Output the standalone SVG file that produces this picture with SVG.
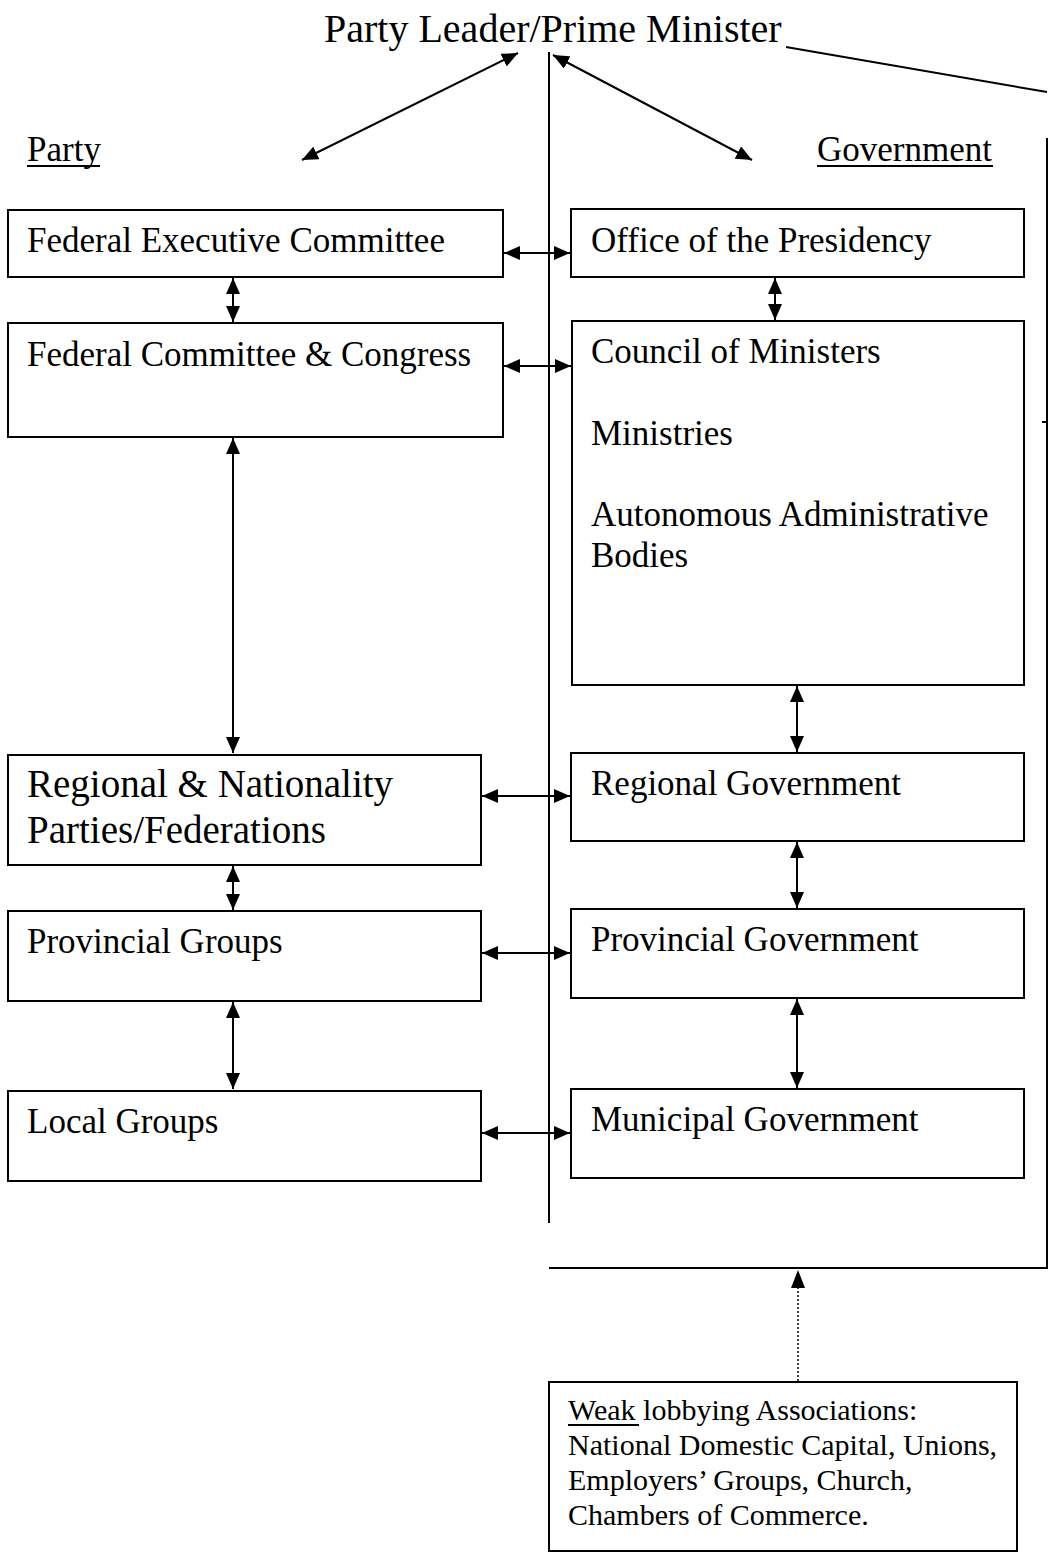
<svg xmlns="http://www.w3.org/2000/svg" width="1050" height="1559" viewBox="0 0 1050 1559">
  <defs>
    <marker id="tri" viewBox="0 0 16 14" refX="16" refY="7" markerWidth="16" markerHeight="14" markerUnits="userSpaceOnUse" orient="auto-start-reverse">
      <path d="M0,0 L16,7 L0,14 z" fill="#000"/>
    </marker>
    <style>
      text { font-family: "Liberation Serif", "Times New Roman", serif; fill: #000; }
      .box { fill: #fff; stroke: #000; stroke-width: 2; }
      .lbl { font-size: 35px; }
      .big { font-size: 39px; }
      .small { font-size: 30px; }
      .ln { stroke: #000; stroke-width: 2; fill: none; }
      .dbl { stroke: #000; stroke-width: 2; fill: none; marker-start: url(#tri); marker-end: url(#tri); }
      .dot { stroke: #000; stroke-width: 1.5; fill: none; stroke-dasharray: 2 2; }
    </style>
  </defs>

  <rect width="1050" height="1559" fill="#fff"/>

  <!-- Heading and column titles -->
  <g id="leader">
    <text x="324" y="42" style="font-size:40px">Party Leader/Prime Minister</text>
  </g>
  <g id="party-title">
    <text x="27" y="161" class="lbl">Party</text>
    <line x1="27" y1="166" x2="100" y2="166" class="ln" stroke-width="1.6"/>
  </g>
  <g id="government-title">
    <text x="817" y="161" class="lbl">Government</text>
    <line x1="817" y1="166" x2="993" y2="166" class="ln" stroke-width="1.6"/>
  </g>

  <!-- Frame lines dividing party and government sides -->
  <g id="frame">
    <line x1="549" y1="52" x2="549" y2="1223" class="ln"/>
    <line x1="786" y1="47" x2="1047" y2="92" class="ln"/>
    <polyline points="1047,138 1047,1268 549,1268" class="ln"/>
    <line x1="1042" y1="422" x2="1047" y2="422" class="ln" stroke-width="1.5"/>
  </g>

  <!-- Party side -->
  <g id="fec">
    <rect x="8" y="210" width="495" height="67" class="box"/>
    <text x="27" y="252" class="lbl">Federal Executive Committee</text>
  </g>
  <g id="fcc">
    <rect x="8" y="323" width="495" height="114" class="box"/>
    <text x="27" y="366" class="lbl">Federal Committee &amp; Congress</text>
  </g>
  <g id="regional-parties">
    <rect x="8" y="755" width="473" height="110" class="box"/>
    <text x="27" y="797" class="big">Regional &amp; Nationality</text>
    <text x="27" y="843" class="big">Parties/Federations</text>
  </g>
  <g id="provincial-groups">
    <rect x="8" y="911" width="473" height="90" class="box"/>
    <text x="27" y="953" class="lbl">Provincial Groups</text>
  </g>
  <g id="local-groups">
    <rect x="8" y="1091" width="473" height="90" class="box"/>
    <text x="27" y="1133" class="lbl">Local Groups</text>
  </g>

  <!-- Government side -->
  <g id="presidency">
    <rect x="571" y="209" width="453" height="68" class="box"/>
    <text x="591" y="252" class="lbl">Office of the Presidency</text>
  </g>
  <g id="council">
    <rect x="572" y="321" width="452" height="364" class="box"/>
    <text x="591" y="363" class="lbl">Council of Ministers</text>
    <text x="591" y="445" class="lbl">Ministries</text>
    <text x="591" y="526" class="lbl">Autonomous Administrative</text>
    <text x="591" y="567" class="lbl">Bodies</text>
  </g>
  <g id="regional-gov">
    <rect x="571" y="753" width="453" height="88" class="box"/>
    <text x="591" y="795" class="lbl">Regional Government</text>
  </g>
  <g id="provincial-gov">
    <rect x="571" y="909" width="453" height="89" class="box"/>
    <text x="591" y="951" class="lbl">Provincial Government</text>
  </g>
  <g id="municipal-gov">
    <rect x="571" y="1089" width="453" height="89" class="box"/>
    <text x="591" y="1131" class="lbl">Municipal Government</text>
  </g>

  <!-- Interest groups -->
  <g id="lobbying">
    <rect x="549" y="1382" width="468" height="169" class="box"/>
    <text x="568" y="1420" class="small">Weak lobbying Associations:</text>
    <line x1="568" y1="1425" x2="639" y2="1425" class="ln" stroke-width="1.4"/>
    <text x="568" y="1455" class="small">National Domestic Capital, Unions,</text>
    <text x="568" y="1490" class="small">Employers’ Groups, Church,</text>
    <text x="568" y="1525" class="small">Chambers of Commerce.</text>
  </g>

  <!-- Connectors -->
  <g id="connectors">
    <line x1="518" y1="53" x2="302" y2="160" class="dbl"/>
    <line x1="553" y1="55" x2="752" y2="160" class="dbl"/>

    <line x1="233" y1="278" x2="233" y2="322" class="dbl"/>
    <line x1="233" y1="438" x2="233" y2="753" class="dbl"/>
    <line x1="233" y1="866" x2="233" y2="910" class="dbl"/>
    <line x1="233" y1="1002" x2="233" y2="1089" class="dbl"/>

    <line x1="775" y1="278" x2="775" y2="320" class="dbl"/>
    <line x1="797" y1="686" x2="797" y2="752" class="dbl"/>
    <line x1="797" y1="842" x2="797" y2="908" class="dbl"/>
    <line x1="797" y1="999" x2="797" y2="1088" class="dbl"/>

    <line x1="504" y1="253" x2="570" y2="253" class="dbl"/>
    <line x1="504" y1="366" x2="571" y2="366" class="dbl"/>
    <line x1="482" y1="796" x2="570" y2="796" class="dbl"/>
    <line x1="482" y1="953" x2="570" y2="953" class="dbl"/>
    <line x1="482" y1="1133" x2="570" y2="1133" class="dbl"/>

    <line x1="798" y1="1381" x2="798" y2="1288" class="dot"/>
    <path d="M791,1288 L798,1270 L805,1288 z" fill="#000"/>
  </g>
</svg>
